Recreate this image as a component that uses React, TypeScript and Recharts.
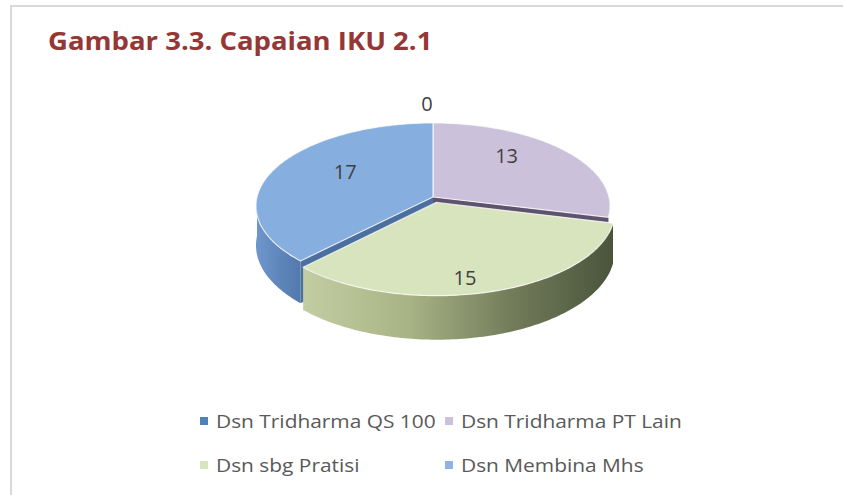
import React from 'react';
import { PieChart, Pie, Legend } from 'recharts';

// ---------- data ----------
const categories = ['Dsn Tridharma QS 100', 'Dsn Tridharma PT Lain', 'Dsn sbg Pratisi', 'Dsn Membina Mhs'];
const values = [0, 13, 15, 17];
const data = categories.map((name, i) => ({ name, value: values[i] }));

// ---------- styles ----------
const TOP_COLORS = ['#4F81BD', '#CCC1DA', '#D7E4BD', '#86AFE0'];
const LEGEND_COLORS = ['#4F81BD', '#CCC1DA', '#D7E4BD', '#8EB4E3'];
const SIDE_COLORS = ['#2f527d', '#5e536d', '#7c8860', '#4b6f9f'];
const WALL_STOPS: string[][] = [
  ['#3f6a9e', '#2f527d'],
  ['#b3a6c6', '#8f82a2'],
  ['#c3cda2', '#a9b486', '#737d5b', '#4a543b'],
  ['#6f97cd', '#5278ad'],
];
const EXPLODE = [0, 0, 12, 0];

const W = 843;
const H = 495;
const CX = 433;
const CY = 197;
const R = 176;
const TILT = 0.466;
const PERSP = 1640;
const DEPTH = 39;
const LABEL_TILT = 0.72;
const FONT = '"Open Sans", "Noto Sans", sans-serif';

const rad = (d: number) => (d * Math.PI) / 180;

function project(cx: number, cy: number, X: number, Z: number, drop: number): [number, number] {
  const s = PERSP / (PERSP + Z);
  return [cx + X * s, cy - Z * TILT * s + drop * s];
}

function offsetOf(i: number, mid: number): [number, number] {
  const e = EXPLODE[i] || 0;
  return [e * Math.cos(rad(mid)), e * Math.sin(rad(mid))];
}

function arcPts(cx: number, cy: number, r: number, from: number, to: number, off: [number, number], drop: number) {
  const n = Math.max(2, Math.ceil(Math.abs(to - from)));
  const pts: [number, number][] = [];
  for (let k = 0; k <= n; k++) {
    const a = from + ((to - from) * k) / n;
    pts.push(project(cx, cy, r * Math.cos(rad(a)) + off[0], r * Math.sin(rad(a)) + off[1], drop));
  }
  return pts;
}

const toPath = (pts: [number, number][]) =>
  'M' + pts.map((p) => p[0].toFixed(2) + ',' + p[1].toFixed(2)).join('L') + 'Z';

// radial cut faces
const renderSides = (p: any) => {
  const { cx, cy, outerRadius: r, startAngle: sA, endAngle: eA, index: i } = p;
  if (Math.abs(sA - eA) < 1e-6) return <g />;
  const mid = (sA + eA) / 2;
  const off = offsetOf(i, mid);
  const faces: number[] = [];
  if (Math.cos(rad(eA)) > 1e-6) faces.push(eA);
  if (Math.cos(rad(sA)) < -1e-6) faces.push(sA);
  return (
    <g>
      {faces.map((a) => {
        const c0 = project(cx, cy, off[0], off[1], 0);
        const c1 = project(cx, cy, off[0], off[1], DEPTH);
        const r0 = project(cx, cy, r * Math.cos(rad(a)) + off[0], r * Math.sin(rad(a)) + off[1], 0);
        const r1 = project(cx, cy, r * Math.cos(rad(a)) + off[0], r * Math.sin(rad(a)) + off[1], DEPTH);
        return <path key={a} d={toPath([c0, r0, r1, c1])} fill={SIDE_COLORS[i]} />;
      })}
    </g>
  );
};

// outer curved walls
const renderWalls = (p: any) => {
  const { cx, cy, outerRadius: r, startAngle: sA, endAngle: eA, index: i } = p;
  if (Math.abs(sA - eA) < 1e-6) return <g />;
  const mid = (sA + eA) / 2;
  const off = offsetOf(i, mid);
  const paths: string[] = [];
  for (let k = -2; k <= 1; k++) {
    const lo = Math.max(eA, -180 + 360 * k);
    const hi = Math.min(sA, 360 * k);
    if (hi - lo > 0.01) {
      const top = arcPts(cx, cy, r, hi, lo, off, 0);
      const bottom = arcPts(cx, cy, r, lo, hi, off, DEPTH);
      paths.push(toPath([...top, ...bottom]));
    }
  }
  const stops = WALL_STOPS[i];
  const gid = 'wallGrad' + i;
  return (
    <g>
      <defs>
        <linearGradient id={gid} x1="0" y1="0" x2="1" y2="0">
          {stops.map((c, k) => (
            <stop key={k} offset={stops.length === 1 ? 0 : k / (stops.length - 1)} stopColor={c} />
          ))}
        </linearGradient>
      </defs>
      {paths.map((d, k) => (
        <path key={k} d={d} fill={`url(#${gid})`} />
      ))}
    </g>
  );
};

// top faces
const renderTops = (p: any) => {
  const { cx, cy, outerRadius: r, startAngle: sA, endAngle: eA, index: i } = p;
  const mid = (sA + eA) / 2;
  const off = offsetOf(i, mid);
  const center = project(cx, cy, off[0], off[1], 0);
  if (Math.abs(sA - eA) < 1e-6) return <g />;
  const pts = [center, ...arcPts(cx, cy, r, sA, eA, off, 0)];
  return (
    <path d={toPath(pts)} fill={TOP_COLORS[i]} stroke="rgba(255,255,255,0.75)" strokeWidth={1.2} strokeLinejoin="round" />
  );
};

// value labels
const renderValues = (p: any) => {
  const { cx, cy, outerRadius: r, midAngle, index: i, value } = p;
  const off = offsetOf(i, midAngle);
  let x: number;
  let y: number;
  if (value === 0) {
    const q = project(cx, cy, r * Math.cos(rad(midAngle)), r * Math.sin(rad(midAngle)), 0);
    x = q[0] - 6;
    y = q[1] - 19;
  } else {
    const f = 0.55;
    const X = f * r * Math.cos(rad(midAngle)) + off[0];
    const Z = f * r * Math.sin(rad(midAngle)) + off[1];
    const s = PERSP / (PERSP + Z);
    x = cx + X * s;
    y = cy - Z * LABEL_TILT * s;
  }
  return (
    <text x={x} y={y} textAnchor="middle" dominantBaseline="central" fontFamily={FONT} fontSize={20} fill="#404040">
      {value}
    </text>
  );
};

const renderLegend = (props: any) => {
  const seen = new Set<string>();
  const items = (props.payload || [])
    .filter((it: any) => {
      if (it.type === 'none' || seen.has(it.value) || categories.indexOf(it.value) < 0) return false;
      seen.add(it.value);
      return true;
    })
    .sort((a: any, b: any) => categories.indexOf(a.value) - categories.indexOf(b.value));
  return (
    <div
      style={{
        display: 'grid',
        gridTemplateColumns: '245px 245px',
        gridAutoRows: '44px',
        fontFamily: FONT,
        fontSize: 18,
        color: '#595959',
      }}
    >
      {items.map((it: any) => {
        const i = categories.indexOf(it.value);
        return (
          <div key={it.value} style={{ display: 'flex', alignItems: 'center', height: 32, whiteSpace: 'nowrap' }}>
            <span
              style={{ width: 8, height: 8, background: LEGEND_COLORS[i], marginRight: 8, display: 'inline-block', flex: 'none' }}
            />
            <span style={{ display: 'inline-block', transform: 'scaleX(1.16)', transformOrigin: 'left center' }}>
              {it.value}
            </span>
          </div>
        );
      })}
    </div>
  );
};

const pieCommon = {
  data,
  dataKey: 'value',
  nameKey: 'name',
  cx: CX,
  cy: CY,
  innerRadius: 0,
  outerRadius: R,
  startAngle: 90,
  endAngle: -270,
  isAnimationActive: false,
  fill: 'transparent',
  stroke: 'none',
  labelLine: false,
};

export default function App() {
  return (
    <div
      style={{
        position: 'absolute',
        left: 0,
        top: 0,
        width: W,
        height: H,
        background: '#ffffff',
        overflow: 'hidden',
        fontFamily: FONT,
      }}
    >
      <div
        style={{
          position: 'absolute',
          left: 10,
          top: 5,
          width: W,
          height: H,
          borderLeft: '2px solid #d9d9d9',
          borderTop: '2px solid #d9d9d9',
        }}
      />
      <div
        style={{
          position: 'absolute',
          left: 48,
          top: 23,
          fontSize: 25,
          fontWeight: 700,
          color: '#953735',
          whiteSpace: 'nowrap',
          fontFamily: FONT,
          transform: 'scaleX(1.1)',
          transformOrigin: 'left top',
        }}
      >
        Gambar 3.3. Capaian IKU 2.1
      </div>
      <div style={{ position: 'absolute', left: 0, top: 0 }}>
        <PieChart width={W} height={H} margin={{ top: 0, right: 0, bottom: 0, left: 0 }}>
          <Pie {...pieCommon} legendType="none" label={renderSides} />
          <Pie {...pieCommon} legendType="none" label={renderWalls} />
          <Pie {...pieCommon} legendType="none" label={renderTops} />
          <Pie {...pieCommon} legendType="square" label={renderValues} />
          <Legend content={renderLegend} wrapperStyle={{ left: 200, top: 405, width: 520, height: 90 }} />
        </PieChart>
      </div>
    </div>
  );
}
